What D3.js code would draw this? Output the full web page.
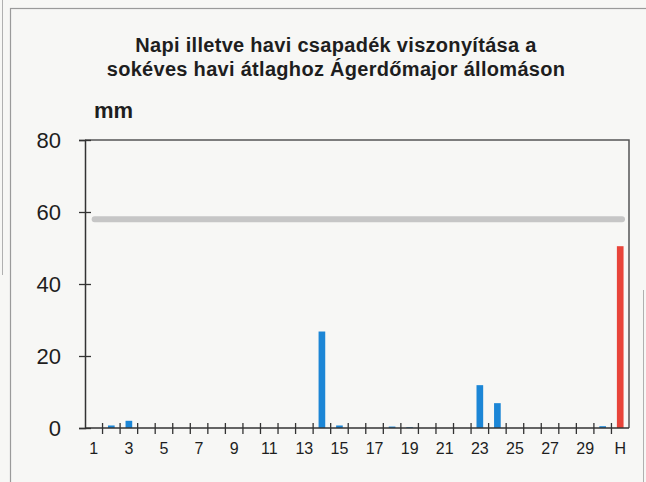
<!DOCTYPE html>
<html>
<head>
<meta charset="utf-8">
<script src="https://cdn.jsdelivr.net/npm/d3@7"></script>
<style>
body { margin: 0; background: #f7f7f5; }
svg { display: block; }
text { fill: #1e1e1e; font-family: "Liberation Sans", Arial, sans-serif; }
</style>
</head>
<body>
<div id="chart"></div>
<script>
// days of the month (November) + H = monthly total
var days = ["1","2","3","4","5","6","7","8","9","10","11","12","13","14","15",
            "16","17","18","19","20","21","22","23","24","25","26","27","28","29","30"];
var dailyRain = [0, 0.7, 2.0, 0, 0, 0, 0, 0, 0, 0, 0, 0, 0, 26.8, 0.7,
                 0, 0, 0.4, 0.2, 0, 0, 0, 11.9, 6.9, 0, 0, 0, 0, 0, 0.5];
var monthLabel = "H";
var monthTotal = 50.5;
var longTermAvg = 58;
var yTicks = [0, 20, 40, 60, 80];
var xLabels = ["1","3","5","7","9","11","13","15","17","19","21","23","25","27","29","H"];

var width = 646, height = 482;
var margin = {left: 85, right: 17, top: 140, bottom: 54};

var svg = d3.select("#chart").append("svg")
  .attr("width", width)
  .attr("height", height);

// outer frame of the scanned panel
svg.append("rect")
  .attr("x", 10.5).attr("y", 8.5)
  .attr("width", 700).attr("height", 600)
  .attr("fill", "none")
  .attr("stroke", "#9a9a9a")
  .attr("stroke-width", 1.2);
// edges of the neighbouring panels on the scan
svg.append("line")
  .attr("x1", 2.5).attr("x2", 2.5).attr("y1", 0).attr("y2", 275)
  .attr("stroke", "#b0b0b0").attr("stroke-width", 1);
svg.append("line")
  .attr("x1", 643.5).attr("x2", 643.5).attr("y1", 290).attr("y2", height)
  .attr("stroke", "#b0b0b0").attr("stroke-width", 1);

var cats = days.concat([monthLabel]);

var xScale = d3.scaleBand()
  .domain(cats)
  .range([margin.left, width - margin.right])
  .padding(0);

var yScale = d3.scaleLinear()
  .domain([0, 80])
  .range([height - margin.bottom, margin.top]);

var bw = xScale.bandwidth();
var barW = bw * 0.38;

// title
var title = svg.append("text")
  .attr("x", 336)
  .attr("text-anchor", "middle")
  .style("font-weight", "bold")
  .style("font-size", "20px")
  .style("letter-spacing", "0.3px");
title.append("tspan").attr("x", 336).attr("y", 52).text("Napi illetve havi csapadék viszonyítása a");
title.append("tspan").attr("x", 336).attr("y", 76).text("sokéves havi átlaghoz Ágerdőmajor állomáson");

svg.append("text")
  .attr("x", 94).attr("y", 118)
  .style("font-weight", "bold")
  .style("font-size", "22px")
  .text("mm");

// plot frame: top and right
svg.append("path")
  .attr("d", "M" + margin.left + "," + margin.top + "H" + (width - margin.right) + "V" + yScale(0))
  .attr("fill", "none")
  .attr("stroke", "#555")
  .attr("stroke-width", 1.5);

// long-term monthly average
svg.append("line")
  .attr("x1", xScale(days[0]) + bw * 0.55)
  .attr("x2", xScale(monthLabel) + bw * 0.6)
  .attr("y1", yScale(longTermAvg))
  .attr("y2", yScale(longTermAvg))
  .attr("stroke", "#c6c6c6")
  .attr("stroke-width", 6)
  .attr("stroke-linecap", "round");

// daily bars
svg.selectAll(".day")
  .data(dailyRain)
  .enter().append("rect")
  .attr("class", "day")
  .attr("x", function(d, i) { return xScale(days[i]) + (bw - barW) / 2; })
  .attr("y", function(d) { return yScale(d); })
  .attr("width", barW)
  .attr("height", function(d) { return yScale(0) - yScale(d); })
  .attr("fill", "#1c86d6");

// monthly total bar
svg.append("rect")
  .attr("x", xScale(monthLabel) + (bw - barW) / 2)
  .attr("y", yScale(monthTotal))
  .attr("width", barW)
  .attr("height", yScale(0) - yScale(monthTotal))
  .attr("fill", "#e8443a");

// y axis
var yAxis = d3.axisLeft(yScale).tickValues(yTicks).tickSize(6).tickPadding(18);
var gY = svg.append("g")
  .attr("transform", "translate(" + margin.left + ",0)")
  .call(yAxis);
gY.select(".domain").attr("stroke", "#333").attr("stroke-width", 1.5);
gY.selectAll(".tick line").attr("x2", -6).attr("x1", 6).attr("stroke", "#333").attr("stroke-width", 1.3);
gY.selectAll(".tick text")
  .style("font-size", "22px")
  .attr("fill", "#1e1e1e");

// x axis baseline
svg.append("line")
  .attr("x1", margin.left).attr("x2", width - margin.right)
  .attr("y1", yScale(0)).attr("y2", yScale(0))
  .attr("stroke", "#333").attr("stroke-width", 1.5);

// tick marks between the bands
svg.selectAll(".xtick")
  .data(cats.slice(1))
  .enter().append("line")
  .attr("class", "xtick")
  .attr("x1", function(d) { return xScale(d); })
  .attr("x2", function(d) { return xScale(d); })
  .attr("y1", yScale(0) - 5)
  .attr("y2", yScale(0) + 6)
  .attr("stroke", "#333")
  .attr("stroke-width", 1.3);

// x labels
var xAxis = d3.axisBottom(xScale).tickValues(xLabels).tickSize(0).tickPadding(15);
var gX = svg.append("g")
  .attr("transform", "translate(0," + yScale(0) + ")")
  .call(xAxis);
gX.select(".domain").remove();
gX.selectAll(".tick text")
  .style("font-size", "16px")
  .attr("fill", "#1e1e1e");
</script>
</body>
</html>
